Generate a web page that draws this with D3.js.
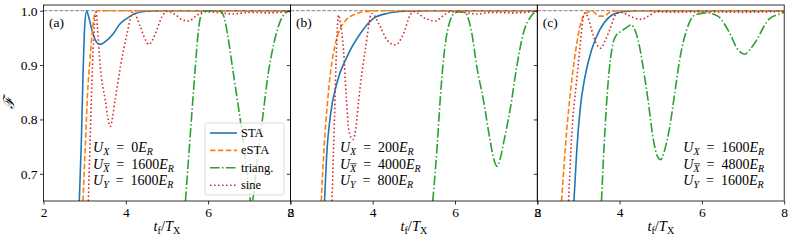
<!DOCTYPE html>
<html><head><meta charset="utf-8">
<script src="https://cdn.jsdelivr.net/npm/d3@7"></script>
<style>body{margin:0;background:#fff} svg{display:block} text{font-family:"Liberation Serif","DejaVu Serif",serif;fill:#000}</style>
</head><body><svg id="c" width="793" height="243"></svg>
<script>
// ---------- data ----------
const panelLabels = ["(a)", "(b)", "(c)"];
const seriesNames = ["STA", "eSTA", "triang.", "sine"];
const xTicks = [2, 4, 6, 8];
const yTicks = [0.7, 0.8, 0.9, 1.0];
const uX = [0, 200, 1600];
const uXbar = [1600, 4000, 4800];
const uY = [1600, 800, 1600];

// panel (a)
const staA = [[2.87,0.65],[2.92,0.76],[2.96,0.88],[3.0,0.97],[3.05,1.0],[3.1,0.988],[3.2,0.958],[3.3,0.941],[3.38,0.938],[3.5,0.943],[3.7,0.958],[3.85,0.975],[4.03,0.986],[4.2,0.994],[4.5,0.999],[5.0,1.0],[8.0,1.0]];
const eStaA = [[2.96,0.65],[3.02,0.76],[3.08,0.86],[3.13,0.91],[3.19,0.965],[3.25,0.995],[3.3,1.0],[8.0,1.0]];
const triangA = [[5.45,0.65],[5.57,0.775],[5.69,0.897],[5.76,0.96],[5.82,0.99],[5.9,1.0],[6.1,1.0],[6.3,0.999],[6.4,0.985],[6.47,0.958],[6.59,0.897],[6.71,0.836],[6.8,0.79],[6.9,0.73],[7.0,0.67],[7.05,0.64],[7.1,0.66],[7.2,0.73],[7.32,0.8],[7.45,0.879],[7.6,0.94],[7.75,0.98],[7.9,0.997],[8.0,1.0]];
const sineA = [[3.09,0.65],[3.14,0.78],[3.19,0.9],[3.24,0.975],[3.28,0.997],[3.31,0.97],[3.38,0.897],[3.5,0.836],[3.62,0.787],[3.74,0.836],[3.87,0.897],[4.03,0.958],[4.18,0.998],[4.35,0.971],[4.48,0.946],[4.56,0.938],[4.72,0.958],[4.88,0.989],[5.02,0.999],[5.2,0.993],[5.38,0.983],[5.53,0.981],[5.7,0.99],[5.9,0.998],[6.2,0.997],[6.6,0.994],[7.0,0.997],[7.5,0.996],[8.0,0.999]];

// panel (b)
const staB = [[2.83,0.65],[2.89,0.744],[2.97,0.806],[3.13,0.867],[3.38,0.916],[3.7,0.958],[4.02,0.986],[4.35,0.995],[4.8,0.999],[5.5,1.0],[8.0,1.0]];
const eStaB = [[2.75,0.65],[2.82,0.75],[2.9,0.83],[2.98,0.89],[3.08,0.935],[3.2,0.965],[3.35,0.983],[3.55,0.993],[3.8,0.998],[4.2,1.0],[8.0,1.0]];
const triangB = [[5.46,0.65],[5.56,0.744],[5.64,0.836],[5.72,0.91],[5.84,0.971],[6.0,0.996],[6.12,0.998],[6.25,0.996],[6.41,0.958],[6.53,0.897],[6.69,0.836],[6.85,0.763],[6.95,0.725],[7.02,0.714],[7.1,0.728],[7.18,0.757],[7.34,0.818],[7.5,0.897],[7.66,0.958],[7.87,0.992],[8.0,1.0]];
const sineB = [[3.01,0.65],[3.07,0.8],[3.12,0.93],[3.17,0.992],[3.21,0.98],[3.29,0.928],[3.36,0.84],[3.42,0.78],[3.52,0.763],[3.6,0.79],[3.66,0.836],[3.82,0.928],[3.98,0.995],[4.18,0.971],[4.35,0.946],[4.55,0.937],[4.75,0.958],[4.91,0.992],[5.0,0.998],[5.3,0.985],[5.52,0.981],[5.7,0.99],[5.88,0.998],[6.2,0.997],[6.53,0.994],[6.9,0.997],[7.4,0.996],[8.0,0.999]];

// panel (c)
const staC = [[2.89,0.65],[2.96,0.744],[3.04,0.818],[3.16,0.879],[3.32,0.928],[3.52,0.965],[3.76,0.989],[4.0,0.997],[4.4,1.0],[8.0,1.0]];
const eStaC = [[2.59,0.65],[2.71,0.775],[2.83,0.867],[2.96,0.94],[3.08,0.983],[3.2,0.996],[3.33,1.0],[3.5,0.99],[3.62,0.99],[3.8,0.999],[4.0,1.0],[8.0,1.0]];
const triangC = [[3.56,0.65],[3.64,0.775],[3.72,0.867],[3.84,0.94],[3.92,0.955],[4.0,0.96],[4.15,0.968],[4.29,0.974],[4.37,0.965],[4.45,0.946],[4.57,0.897],[4.69,0.836],[4.82,0.763],[4.92,0.732],[5.0,0.726],[5.08,0.74],[5.22,0.787],[5.34,0.848],[5.46,0.91],[5.63,0.965],[5.83,0.992],[6.11,0.996],[6.39,0.99],[6.55,0.975],[6.68,0.958],[6.86,0.93],[7.04,0.92],[7.18,0.93],[7.33,0.946],[7.5,0.97],[7.65,0.986],[7.97,0.996],[8.0,0.997]];
const sineC = [[2.76,0.65],[2.84,0.775],[2.95,0.867],[3.04,0.935],[3.12,0.99],[3.16,0.996],[3.22,0.99],[3.32,0.965],[3.43,0.94],[3.54,0.931],[3.65,0.945],[3.76,0.965],[3.93,0.995],[4.05,0.997],[4.2,0.992],[4.38,0.986],[4.53,0.984],[4.7,0.99],[4.9,0.998],[5.3,0.997],[6.0,0.998],[7.0,0.997],[8.0,0.999]];

const panelData = [
  [staA, eStaA, triangA, sineA],
  [staB, eStaB, triangB, sineB],
  [staC, eStaC, triangC, sineC]
];

// ---------- styles ----------
const colors = ["#1f77b4", "#ff7f0e", "#2ca02c", "#d62728"];
const dashes = [null, "5.5,2.4", "9.6,2.4,1.5,2.4", "1.5,2.5"];

const svg = d3.select("#c");
const topY = 5, bottomY = 201, pw = 246.9, left0 = 43.5;
const y = d3.scaleLinear().domain([0.65, 1.0105]).range([bottomY, topY]);
const fmt = d3.format(".1f");

panelData.forEach((series, i) => {
  const L = left0 + i * pw;
  const x = d3.scaleLinear().domain([2, 8]).range([L, L + pw]);
  const g = svg.append("g");
  const cid = "clip" + i;
  svg.append("clipPath").attr("id", cid).append("rect")
    .attr("x", L).attr("y", topY).attr("width", pw).attr("height", bottomY - topY);

  // reference line at F = 1
  g.append("line").attr("x1", L).attr("x2", L + pw)
    .attr("y1", y(1)).attr("y2", y(1))
    .attr("stroke", "#808080").attr("stroke-width", 1).attr("stroke-dasharray", "3.7,1.6");

  const line = d3.line().x(d => x(d[0])).y(d => y(d[1])).curve(d3.curveMonotoneX);
  const cg = g.append("g").attr("clip-path", `url(#${cid})`);
  series.forEach((s, k) => {
    cg.append("path").attr("d", line(s)).attr("fill", "none")
      .attr("stroke", colors[k]).attr("stroke-width", 1.6)
      .attr("stroke-dasharray", dashes[k]);
  });

  // axes
  const xa = g.append("g").attr("transform", `translate(0,${bottomY})`)
    .call(d3.axisBottom(x).tickValues(xTicks).tickSize(3.5).tickPadding(2.5).tickFormat(d3.format("d")));
  xa.select(".domain").remove();
  xa.selectAll("text").attr("font-size", 13.5).attr("font-family", "Liberation Serif");
  xa.selectAll("line").attr("stroke-width", 0.8);
  const ya = g.append("g").attr("transform", `translate(${L},0)`)
    .call(d3.axisLeft(y).tickValues(yTicks).tickSize(3.5).tickPadding(2.5)
      .tickFormat(i === 0 ? fmt : () => ""));
  ya.select(".domain").remove();
  ya.selectAll("text").attr("font-size", 13.5).attr("font-family", "Liberation Serif");
  ya.selectAll("line").attr("stroke-width", 0.8);

  // frame
  g.append("rect").attr("x", L).attr("y", topY).attr("width", pw).attr("height", bottomY - topY)
    .attr("fill", "none").attr("stroke", "#000").attr("stroke-width", 0.8);

  // panel label
  g.append("text").attr("x", L + 5.5).attr("y", 27).attr("font-size", 13.5).text(panelLabels[i]);

  // x label
  const xl = g.append("text").attr("x", L + pw / 2).attr("y", 231).attr("text-anchor", "middle").attr("font-size", 14.5);
  xl.append("tspan").attr("font-style", "italic").text("t");
  xl.append("tspan").attr("font-size", 10).attr("dy", 3).text("f");
  xl.append("tspan").attr("dy", -3).text("/");
  xl.append("tspan").attr("font-style", "italic").text("T");
  xl.append("tspan").attr("font-size", 10).attr("dy", 3).text("X");

  // annotation
  const ax = i === 2 ? L + 146 : L + 49.5;
  const rows = [[uX[i], false], [uXbar[i], true], [uY[i], false]];
  rows.forEach((r, j) => {
    const t = g.append("text").attr("x", ax).attr("y", 152 + j * 16.5).attr("font-size", 14);
    t.append("tspan").attr("font-style", "italic").text("U");
    t.append("tspan").attr("font-style", "italic").attr("font-size", 10).attr("dy", 3)
      .text(j === 2 ? "Y" : "X");
    t.append("tspan").attr("dy", -3).text("\u2002=\u2002" + r[0]);
    t.append("tspan").attr("font-style", "italic").text("E");
    t.append("tspan").attr("font-style", "italic").attr("font-size", 10).attr("dy", 3).text("R");
    if (r[1]) {
      const node = t.node();
      const s = node.getStartPositionOfChar(1), e = node.getEndPositionOfChar(1);
      g.append("line").attr("x1", s.x + 0.5).attr("x2", e.x + 0.5)
        .attr("y1", s.y - 7.8).attr("y2", s.y - 7.8)
        .attr("stroke", "#000").attr("stroke-width", 0.7);
    }
  });
});

// y label
svg.append("text").attr("transform", "translate(14,103) rotate(-90)")
  .attr("text-anchor", "middle").attr("font-size", 15).attr("font-style", "italic").text("ℱ");

// legend (panel a)
const lg = svg.append("g");
lg.append("rect").attr("x", 205).attr("y", 123).attr("width", 79).attr("height", 72).attr("rx", 2.5)
  .attr("fill", "#fff").attr("fill-opacity", 0.8).attr("stroke", "#d0d0d0").attr("stroke-width", 0.8);
seriesNames.forEach((n, k) => {
  const yy = 133 + k * 17.4;
  lg.append("line").attr("x1", 210).attr("x2", 237).attr("y1", yy).attr("y2", yy)
    .attr("stroke", colors[k]).attr("stroke-width", 1.6).attr("stroke-dasharray", dashes[k]);
  lg.append("text").attr("x", 241).attr("y", yy + 4).attr("font-size", 12.5).text(n);
});
</script></body></html>
